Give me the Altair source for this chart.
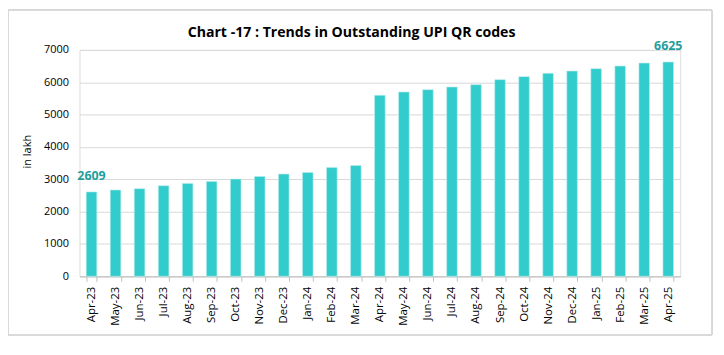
import altair as alt
import pandas as pd

months = ["Apr-23", "May-23", "Jun-23", "Jul-23", "Aug-23", "Sep-23", "Oct-23", "Nov-23",
          "Dec-23", "Jan-24", "Feb-24", "Mar-24", "Apr-24", "May-24", "Jun-24", "Jul-24",
          "Aug-24", "Sep-24", "Oct-24", "Nov-24", "Dec-24", "Jan-25", "Feb-25", "Mar-25", "Apr-25"]
values = [2609, 2669, 2709, 2800, 2871, 2933, 3006, 3086, 3160, 3209, 3362, 3423,
          5596, 5698, 5770, 5852, 5926, 6080, 6173, 6275, 6346, 6420, 6500, 6593, 6625]
labelled = ["Apr-23", "Apr-25"]
y_ticks = [0, 1000, 2000, 3000, 4000, 5000, 6000, 7000]
title_text = "Chart -17 : Trends in Outstanding UPI QR codes"

df = pd.DataFrame({"month": months, "value": values})
df["label"] = [str(v) if m in labelled else "" for m, v in zip(months, values)]

W, H = 605, 228

xenc = alt.X("month:N", sort=months, title=None,
             scale=alt.Scale(paddingInner=0.56, paddingOuter=0.28),
             axis=alt.Axis(labelAngle=-90, labelFont="Open Sans", labelFontSize=11.5,
                           labelColor="#000000", labelPadding=5, tickBand="extent",
                           tickSize=5, tickColor="#bfbfbf", domainColor="#bfbfbf",
                           labelAlign="right", labelBaseline="middle"))
yenc = alt.Y("value:Q", title="in lakh",
             scale=alt.Scale(domain=[0, 7000], nice=False, zero=True),
             axis=alt.Axis(values=y_ticks, tickCount=8,
                           format="d", labelOverlap=False,
                           domain=False, ticks=False, gridColor="#d9d9d9",
                           labelFont="Open Sans", labelFontSize=11, labelColor="#000000",
                           labelPadding=11, titleFont="Open Sans", titleFontSize=11,
                           titleFontWeight="normal", titleColor="#000000",
                           titleX=-52, titleY=102, titleAlign="center",
                           titleBaseline="middle", titleAngle=270))

bars = alt.Chart(df).mark_bar(color="#33CCCC", stroke="#b8eded", strokeWidth=0.6).encode(x=xenc, y=yenc)

text = alt.Chart(df).mark_text(font="Open Sans", fontSize=12.5, fontWeight="bold",
                               color="#1f9e9e", baseline="bottom", dy=-9).encode(
    x=xenc, y=yenc, text="label:N")

border = alt.Chart(df).mark_rect(fill=None, stroke="#d9d9d9", strokeWidth=1, clip=False).encode(
    x=alt.value(-71.5), x2=alt.value(637), y=alt.value(-40), y2=alt.value(287))

title = alt.Chart(pd.DataFrame({"t": [title_text]})).mark_text(
    font="Open Sans", fontSize=14.2, fontWeight="bold", color="#000000",
    align="center", baseline="alphabetic").encode(
    x=alt.value(274), y=alt.value(-13), text="t:N")

chart = alt.layer(border, bars, text, title).properties(
    width=W, height=H,
    autosize=alt.AutoSizeParams(type="none"),
    padding={"left": 72, "top": 41, "right": 36, "bottom": 70},
).configure_view(stroke=None).configure(background="white")

chart.save("out.html", embed_options={"renderer": "svg", "actions": False})
